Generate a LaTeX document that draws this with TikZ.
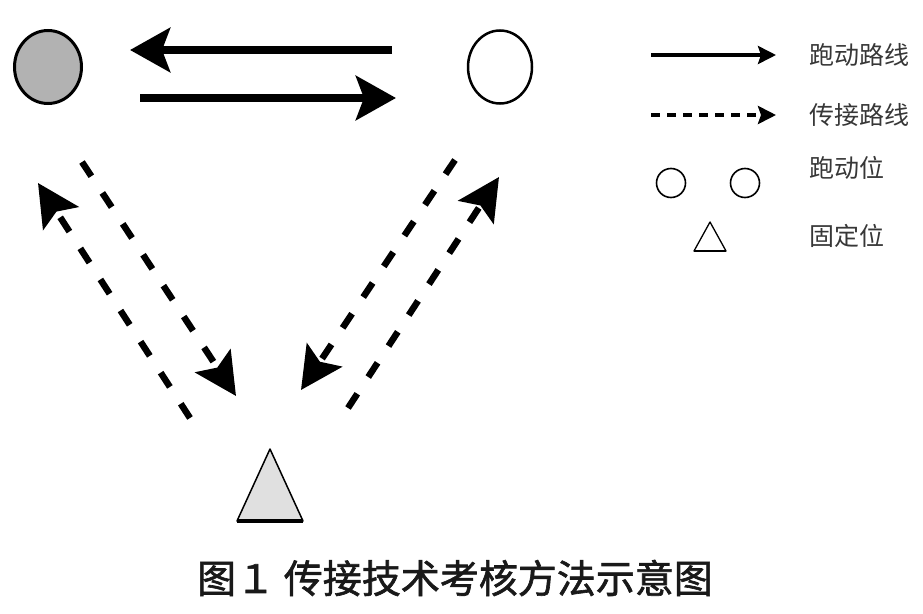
\documentclass[tikz,border=0pt]{standalone}
\usepackage{fontspec}
\newfontfamily\cjk{Noto Sans CJK SC}
\newfontfamily\cjkcap[FakeBold=1.6]{Noto Sans CJK SC}
\usetikzlibrary{shapes.geometric,arrows.meta,positioning,calc}
\definecolor{runfill}{RGB}{178,178,178}
\definecolor{fixfill}{RGB}{224,224,224}
\definecolor{lgtext}{RGB}{55,55,55}
\definecolor{captext}{RGB}{25,25,25}
\tikzset{
  %% running position (field)
  runpos/.style={ellipse,draw=black,line width=3pt,minimum width=67pt,
    minimum height=73pt,inner sep=0pt},
  %% running position (legend)
  lgpos/.style={circle,draw=black,line width=1.6pt,minimum size=29pt,inner sep=0pt},
  %% arrows
  runarr/.style={-{Stealth[length=40pt,width=44pt,inset=8pt]},line width=8pt},
  passarr/.style={-{Stealth[length=42pt,width=42pt,inset=8pt]},line width=6.5pt,
    dash pattern=on 17pt off 20pt},
  lgrunarr/.style={-{Stealth[length=18pt,width=18pt,inset=3pt]},line width=3.5pt},
  lgpassarr/.style={-{Stealth[length=18pt,width=18pt,inset=3pt]},line width=4pt,
    dash pattern=on 9pt off 7pt},
  %% texts
  lgtxt/.style={anchor=west,inner sep=0pt,text=lgtext,
    font=\cjk\fontsize{25}{25}\selectfont},
  captxt/.style={inner sep=0pt,text=captext,
    font=\cjkcap\fontsize{39}{39}\selectfont},
}
\begin{document}
\begin{tikzpicture}[x=1pt,y=-1pt]
  \useasboundingbox (0,0) rectangle (923,613);

  %% running positions
  \node[runpos,fill=runfill] (runl) at (48,67) {};
  \node[runpos,fill=white,line width=2.5pt,minimum width=64pt] (runr) at (500,67) {};

  %% running route between them
  \coordinate (topr) at (392,50);
  \coordinate (topl) at (130,50);
  \coordinate (botl) at (140,98);
  \coordinate (botr) at (396,98);
  \draw[runarr] (topr) -- (topl);
  \draw[runarr] (botl) -- (botr);

  %% fixed position
  \coordinate (fixl) at (237,521);
  \coordinate (fixr) at (303,521);
  \coordinate (fixt) at (270,449);
  \filldraw[fill=fixfill,line width=1.5pt,line join=round] (fixl) -- (fixt) -- (fixr) -- cycle;
  \draw[line width=3.5pt] (fixl) -- (fixr);

  %% passing routes, left side
  \coordinate (passa1) at (190,418);
  \coordinate (passa2) at (38,183);
  \coordinate (passb1) at (82,162);
  \coordinate (passb2) at (236,396);
  \draw[passarr] (passa1) -- (passa2);
  \draw[passarr] (passb1) -- (passb2);

  %% passing routes, right side
  \coordinate (passc1) at (455,160);
  \coordinate (passc2) at (301,390);
  \coordinate (passd1) at (348,408);
  \coordinate (passd2) at (499,177);
  \draw[passarr] (passc1) -- (passc2);
  \draw[passarr] (passd1) -- (passd2);

  %% legend
  \coordinate (lgrun1) at (651,55);
  \coordinate (lgrun2) at (776,55);
  \draw[lgrunarr] (lgrun1) -- (lgrun2);
  \node[lgtxt] (lgruntxt) at (809,55) {跑动路线};

  \coordinate (lgpass1) at (651,115);
  \coordinate (lgpass2) at (776,115);
  \draw[lgpassarr] (lgpass1) -- (lgpass2);
  \node[lgtxt] (lgpasstxt) at (809,115) {传接路线};

  \node[lgpos] (lgposa) at (671,183) {};
  \node[lgpos] (lgposb) at (745,183) {};
  \node[lgtxt] (lgpostxt) at (809,168) {跑动位};

  \coordinate (lgfixl) at (694,251);
  \coordinate (lgfixr) at (726,251);
  \coordinate (lgfixt) at (710,222);
  \draw[line width=1.3pt,line join=round] (lgfixl) -- (lgfixt) -- (lgfixr) -- cycle;
  \draw[line width=2.5pt] (lgfixl) -- (lgfixr);
  \node[lgtxt] (lgfixtxt) at (809,236) {固定位};

  %% caption
  \node[captxt] (cap) at (455,578) {图１ 传接技术考核方法示意图};

\end{tikzpicture}
\end{document}
